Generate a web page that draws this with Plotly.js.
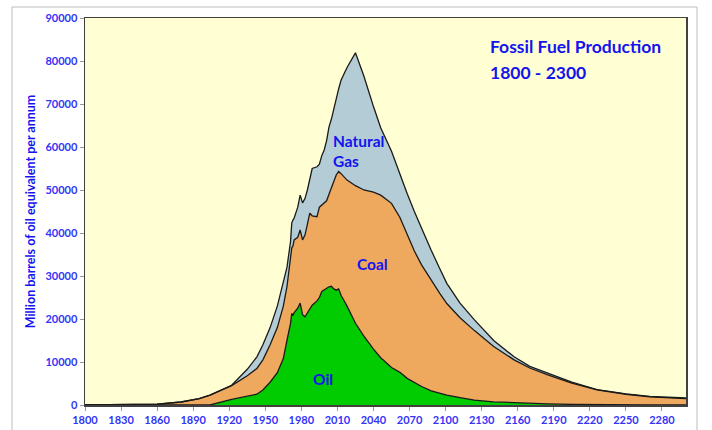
<!DOCTYPE html>
<html>
<head>
<meta charset="utf-8">
<script src="https://cdn.plot.ly/plotly-3.0.1.min.js"></script>
<style>html,body{margin:0;padding:0;background:#fff;}#chart{width:712px;height:430px;}</style>
</head>
<body>
<div id="chart"></div>
<script>
// Years (x values)
const years = [1800,1830,1860,1880,1895,1904,1922,1935,1943,1948,1954,1960,1965,1968,1971,1972,1973,1974,1977,1979,1981,1983,1985,1987,1989,1993,1995,1997,1999,2001,2003,2005,2007,2009,2011,2013,2018,2025,2032,2040,2046,2055,2062,2068,2074,2080,2088,2095,2101,2112,2124,2140,2157,2170,2185,2205,2226,2250,2270,2300];
// Million barrels of oil equivalent per annum
const oil  = [0,0,0,0,0,0,1300,2000,2500,3500,5300,7500,10800,15000,19000,21300,20800,21500,22500,23700,21000,20500,21500,22500,23200,24200,25000,26400,26800,27000,27500,27600,27000,26700,27000,25500,23000,19000,16000,13000,11000,8700,7600,6200,5300,4300,3300,2800,2300,1700,1150,750,500,380,250,130,60,20,5,0];
const coal = [0,50,200,700,1500,2300,3200,4800,6000,7000,8700,10500,12200,12500,15000,15200,16200,16900,16500,17000,17400,19000,20500,22100,20800,19600,21000,20100,20200,20500,21500,22900,25300,26800,27300,28300,29300,32000,34000,36500,37800,38200,36000,33600,30500,28300,25600,23200,21300,18600,16150,12850,10000,8220,6750,4970,3440,2480,1895,1470];
const gas  = [0,0,0,0,0,0,100,1500,2700,3500,4000,5000,6000,4500,4000,5800,6000,5100,7000,8100,8600,8500,8000,7900,11000,11600,10000,11500,12300,14000,15700,16000,16700,18000,19200,21700,26200,30900,26500,19900,15700,12100,9900,9400,9200,8400,7100,5800,4700,3400,2500,1400,700,400,400,200,100,100,100,160];
const xTicks = [1800,1830,1860,1890,1920,1950,1980,2010,2040,2070,2100,2130,2160,2190,2220,2250,2280];
const yTicks = [0,10000,20000,30000,40000,50000,60000,70000,80000,90000];

const FONT = 'Lato, "Open Sans", sans-serif';
const BLUE = '#1414EE';
const TICKBLUE = '#3434F8';

const lineStyle = {color:'#1a1a1a', width:1.3, shape:'linear'};
const traces = [
  {x:years, y:oil, name:'Oil', type:'scatter', mode:'lines', stackgroup:'f', line:lineStyle, fillcolor:'#00CC00'},
  {x:years, y:coal, name:'Coal', type:'scatter', mode:'lines', stackgroup:'f', line:lineStyle, fillcolor:'#EEA95E'},
  {x:years, y:gas, name:'Natural Gas', type:'scatter', mode:'lines', stackgroup:'f', line:lineStyle, fillcolor:'#B3CCD5'}
];

const layout = {
  width:712, height:430,
  margin:{l:85, r:26, t:18, b:25},
  paper_bgcolor:'#ffffff',
  plot_bgcolor:'#FFFFD3',
  showlegend:false,
  font:{family:FONT, color:TICKBLUE, size:11, weight:'bold'},
  xaxis:{
    range:[1800,2300], tickmode:'array', tickvals:xTicks, ticktext:xTicks.map(String),
    showgrid:false, zeroline:false, showline:true, linecolor:'#404040', linewidth:1.5, mirror:true,
    ticks:'outside', ticklen:4, tickcolor:'#999', tickfont:{family:FONT, size:11, color:TICKBLUE, weight:'bold'}
  },
  yaxis:{
    range:[0,90000], tickmode:'array', tickvals:yTicks, ticktext:yTicks.map(String),
    showgrid:false, zeroline:false, showline:true, linecolor:'#404040', linewidth:1.5, mirror:true,
    ticks:'outside', ticklen:4, tickcolor:'#999', tickfont:{family:FONT, size:11, color:TICKBLUE, weight:'bold'},
    title:{text:'Million barrels of oil equivalent per annum', standoff:7, font:{family:FONT, size:12.5, color:BLUE, weight:'bold'}}
  },
  annotations:[
    {x:2135, y:83300, xref:'x', yref:'y', xanchor:'left', yanchor:'middle', showarrow:false, text:'Fossil Fuel Production', font:{family:FONT, size:17.5, color:BLUE, weight:'bold'}},
    {x:2135, y:77400, xref:'x', yref:'y', xanchor:'left', yanchor:'middle', showarrow:false, text:'1800 - 2300', font:{family:FONT, size:17.5, color:BLUE, weight:'bold'}},
    {x:2004.5, y:61400, xref:'x', yref:'y', xanchor:'left', yanchor:'middle', showarrow:false, text:'Natural', font:{family:FONT, size:15.5, color:BLUE, weight:'bold'}},
    {x:2004.5, y:56700, xref:'x', yref:'y', xanchor:'left', yanchor:'middle', showarrow:false, text:'Gas', font:{family:FONT, size:15.5, color:BLUE, weight:'bold'}},
    {x:2039, y:32800, xref:'x', yref:'y', xanchor:'center', yanchor:'middle', showarrow:false, text:'Coal', font:{family:FONT, size:15.5, color:BLUE, weight:'bold'}},
    {x:1998, y:6050, xref:'x', yref:'y', xanchor:'center', yanchor:'middle', showarrow:false, text:'Oil', font:{family:FONT, size:15.5, color:BLUE, weight:'bold'}}
  ],
  shapes:[
    {type:'rect', xref:'paper', yref:'paper', x0:-0.1215, x1:1.0183, y0:-0.2, y1:1.0284, line:{color:'#BDBDBD', width:1}, fillcolor:'rgba(0,0,0,0)'}
  ]
};

Plotly.newPlot('chart', traces, layout, {displayModeBar:false, staticPlot:true});
</script>
</body>
</html>
